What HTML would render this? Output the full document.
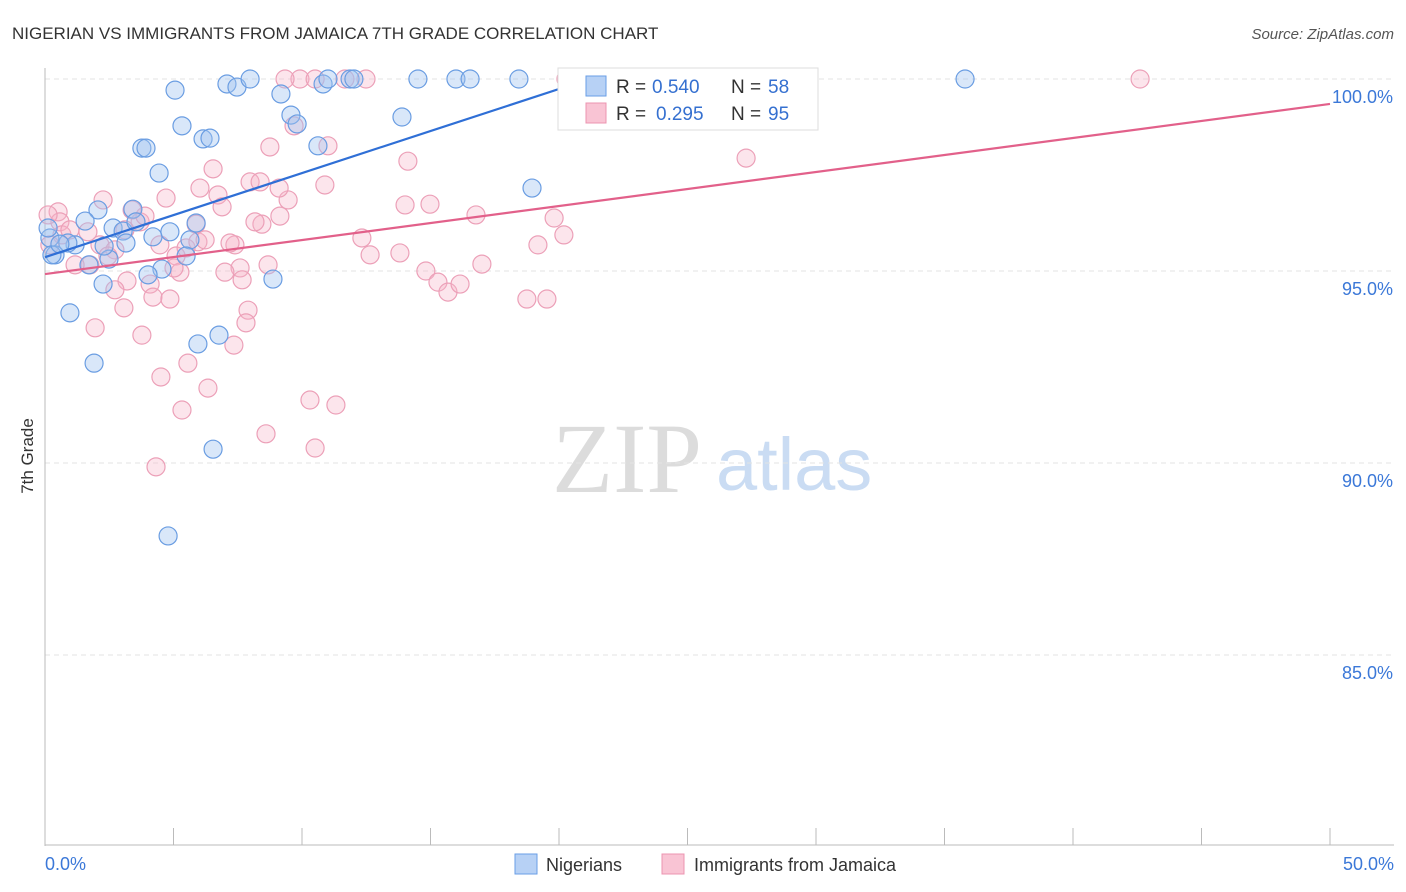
<!DOCTYPE html>
<html><head><meta charset="utf-8">
<style>
body{margin:0;background:#fff;font-family:"Liberation Sans",sans-serif;}
svg{display:block}
</style></head>
<body>
<svg id="chart" width="1406" height="892">
<text x="12" y="39" font-size="17" fill="#333">NIGERIAN VS IMMIGRANTS FROM JAMAICA 7TH GRADE CORRELATION CHART</text>
<text x="1394" y="39" font-size="15" fill="#555" font-style="italic" text-anchor="end">Source: ZipAtlas.com</text>
<text x="552" y="492" font-size="100" fill="#dcdcdc" font-family="Liberation Serif,serif">ZIP</text>
<text x="716" y="490" font-size="74" fill="#cadcf3">atlas</text>
<text transform="translate(33,456) rotate(-90)" font-size="17" fill="#333" text-anchor="middle">7th Grade</text>
<g id="grid"></g><g id="axes"></g><g id="pts"></g><g id="lines"></g>
<g>
<rect x="558" y="68" width="260" height="62" fill="#fff" stroke="#ddd"/>
<rect x="586" y="76" width="20" height="20" fill="#b7d1f5" stroke="#6a9ee6"/>
<text x="616" y="93" font-size="19" fill="#333">R =</text>
<text x="652" y="93" font-size="19" fill="#3570d0">0.540</text>
<text x="731" y="93" font-size="19" fill="#333">N =</text>
<text x="768" y="93" font-size="19" fill="#3570d0">58</text>
<rect x="586" y="103" width="20" height="20" fill="#f9c4d4" stroke="#ec94b0"/>
<text x="616" y="120" font-size="19" fill="#333">R =</text>
<text x="656" y="120" font-size="19" fill="#3570d0">0.295</text>
<text x="731" y="120" font-size="19" fill="#333">N =</text>
<text x="768" y="120" font-size="19" fill="#3570d0">95</text>
</g>
<g>
<rect x="515" y="854" width="22" height="20" fill="#b7d1f5" stroke="#6a9ee6"/>
<text x="546" y="871" font-size="18" fill="#333">Nigerians</text>
<rect x="662" y="854" width="22" height="20" fill="#f9c4d4" stroke="#ec94b0"/>
<text x="694" y="871" font-size="18" fill="#333">Immigrants from Jamaica</text>
</g>
</svg>
<script>
const NS="http://www.w3.org/2000/svg";
const yTicks=[100,95,90,85];
const xTickLabels=["0.0%","50.0%"];
const bluePx=[[175,90],[227,84],[237,87],[250,79],[182,126],[203,139],[210,138],[142,148],[146,148],[159,173],[281,94],[291,115],[297,124],[318,146],[323,84],[328,79],[350,79],[354,79],[402,117],[418,79],[456,79],[470,79],[519,79],[532,188],[637,79],[965,79],[98,210],[85,221],[113,228],[123,231],[133,209],[136,222],[153,237],[170,232],[196,223],[190,240],[186,256],[162,269],[148,275],[103,284],[109,259],[89,265],[75,245],[55,255],[50,238],[52,255],[48,228],[68,243],[104,246],[126,243],[273,279],[70,313],[94,363],[219,335],[198,344],[213,449],[168,536],[60,244]];
const pinkPx=[[300,79],[285,79],[315,79],[345,79],[366,79],[566,79],[706,79],[1140,79],[294,126],[328,146],[270,147],[213,169],[250,182],[325,185],[166,198],[200,188],[218,195],[222,207],[288,200],[262,224],[280,216],[405,205],[430,204],[476,215],[408,161],[554,218],[564,235],[538,245],[482,264],[362,238],[370,255],[400,253],[426,271],[438,282],[448,292],[460,284],[746,158],[527,299],[547,299],[103,200],[58,212],[60,222],[48,215],[62,235],[50,245],[70,230],[88,232],[100,245],[115,250],[125,230],[140,222],[145,216],[132,210],[108,256],[90,265],[75,265],[160,245],[176,256],[186,248],[198,242],[205,240],[235,245],[240,268],[180,272],[174,268],[225,272],[127,281],[115,290],[124,308],[150,284],[153,297],[170,299],[242,280],[268,265],[230,243],[248,310],[246,323],[234,345],[142,335],[95,328],[188,363],[208,388],[161,377],[182,410],[310,400],[336,405],[266,434],[315,448],[156,467],[255,222],[196,224],[260,182],[279,188]];
const blueX=bluePx.map(p=>+((p[0]-45)/25.7).toFixed(2));
const blueY=bluePx.map(p=>+(100-(p[1]-79)/38.4).toFixed(2));
const pinkX=pinkPx.map(p=>+((p[0]-45)/25.7).toFixed(2));
const pinkY=pinkPx.map(p=>+(100-(p[1]-79)/38.4).toFixed(2));
const blueTrend=[95.36,0.219];
const pinkTrend=[94.92,0.0886];
const sx=v=>45+v*25.7, sy=v=>79+(100-v)*38.4;
function mk(t,a,p){const e=document.createElementNS(NS,t);for(const k in a)e.setAttribute(k,a[k]);p.appendChild(e);return e;}
const grid=document.getElementById('grid'),axes=document.getElementById('axes');
yTicks.forEach(t=>{
 const l=mk('line',{x1:45,x2:1394,y1:sy(t),y2:sy(t),stroke:'#e3e3e3','stroke-dasharray':'5,4'},grid);
 
 
 const tx=mk('text',{x:1393,y:sy(t)+24,'font-size':18,fill:'#3b78d8','text-anchor':'end'},axes);
 tx.textContent=t.toFixed(1)+'%';
 
 
});
mk('line',{x1:45,x2:45,y1:68,y2:846,stroke:'#bbb'},axes);
mk('line',{x1:45,x2:1394,y1:845,y2:845,stroke:'#bbb'},axes);
for(let i=0;i<=10;i++){mk('line',{x1:sx(i*5),x2:sx(i*5),y1:828,y2:845,stroke:'#bbb'},axes);}
const xl0=mk('text',{x:45,y:870,'font-size':18,fill:'#3b78d8'},axes);xl0.textContent=xTickLabels[0];


const xl1=mk('text',{x:1394,y:870,'font-size':18,fill:'#3b78d8','text-anchor':'end'},axes);xl1.textContent=xTickLabels[1];


const pts=document.getElementById('pts');
pinkX.forEach((x,i)=>{const c=mk('circle',{cx:sx(x),cy:sy(pinkY[i]),r:9,fill:'rgba(246,180,200,0.35)',stroke:'#eca0b8','stroke-width':1.2},pts);
 
 });
blueX.forEach((x,i)=>{const c=mk('circle',{cx:sx(x),cy:sy(blueY[i]),r:9,fill:'rgba(160,195,240,0.4)',stroke:'#6a9de2','stroke-width':1.2},pts);
 
 });
const lines=document.getElementById('lines');
const bEnd=(100-blueTrend[0])/blueTrend[1];
const bl=mk('line',{x1:sx(0),y1:sy(blueTrend[0]),x2:sx(bEnd),y2:sy(100),stroke:'#2f6fd6','stroke-width':2.2},lines);


const pl=mk('line',{x1:sx(0),y1:sy(pinkTrend[0]),x2:sx(50),y2:sy(pinkTrend[0]+50*pinkTrend[1]),stroke:'#e2608a','stroke-width':2.2},lines);


</script>
</body></html>
